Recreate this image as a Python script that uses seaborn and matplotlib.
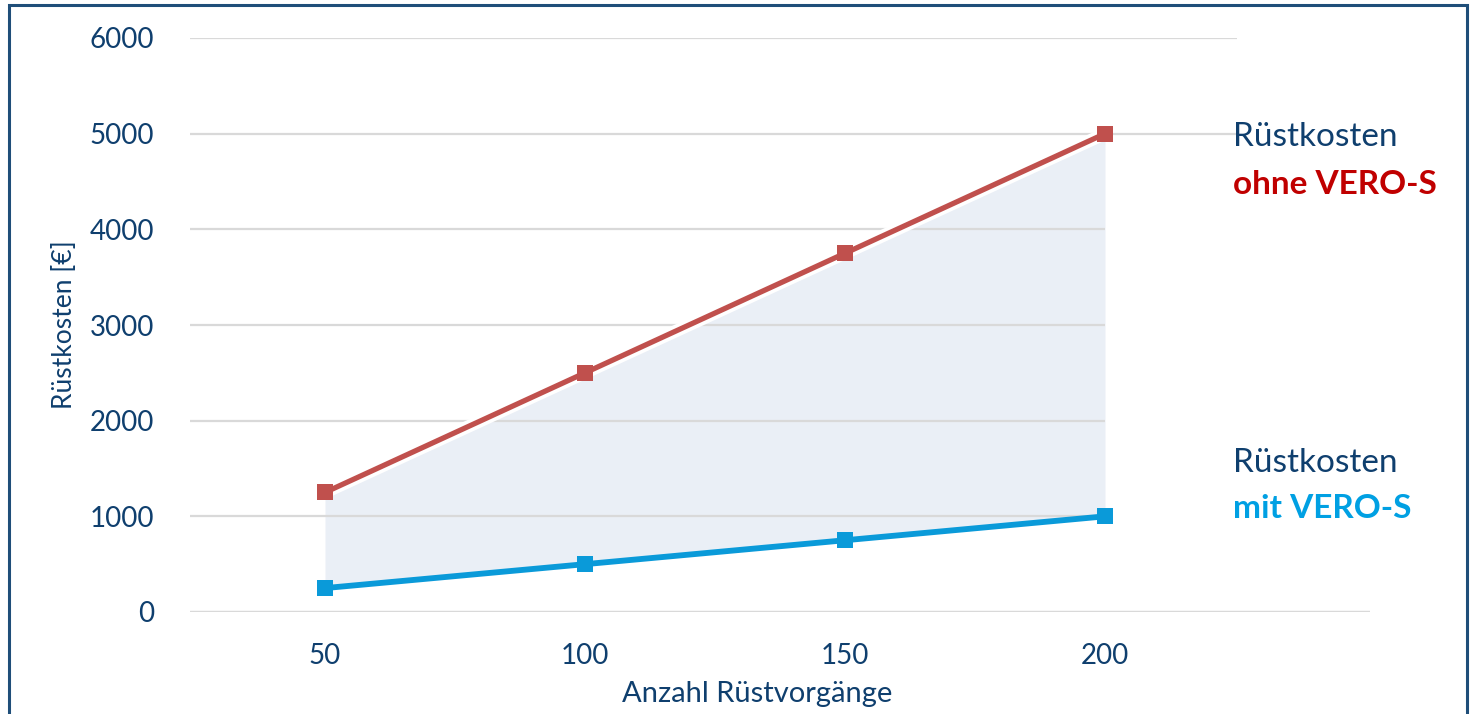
import matplotlib
matplotlib.use("Agg")
import matplotlib.pyplot as plt
from matplotlib.patches import Rectangle
import seaborn as sns
import pandas as pd

# Rüstkosten chart data
anzahl = [50, 100, 150, 200]
kosten_ohne = [1250, 2500, 3750, 5000]
kosten_mit = [250, 500, 750, 1000]
y_ticks = [0, 1000, 2000, 3000, 4000, 5000, 6000]

navy = "#0f3f6e"
red = "#c0504d"
blue = "#0a9ad9"

sns.set_style("white")
plt.rcParams['font.family'] = ['Lato', 'DejaVu Sans']

df = pd.DataFrame({"x": anzahl * 2,
                   "y": kosten_ohne + kosten_mit,
                   "serie": ["ohne"] * 4 + ["mit"] * 4})

fig = plt.figure(figsize=(14.7, 7.14), dpi=100)
ax = fig.add_axes([190 / 1470, 102 / 714, 1180 / 1470, 574 / 714])

# area between both series
ax.fill_between(anzahl, kosten_mit, kosten_ohne, color="#eaeff6", lw=0, zorder=1)

# grid lines
ax.hlines(y_ticks[1:5], 24.04, 200, color="#d9d9d9", lw=1.6, zorder=1.5)
ax.hlines(y_ticks[5:], 24.04, 225.4, color="#d9d9d9", lw=1.6, zorder=1.5)
ax.axhline(0, color="#d9d9d9", lw=2.5, zorder=1.5)

# white halo under the red line
ax.plot(anzahl, kosten_ohne, color="white", lw=9, zorder=2, solid_capstyle="butt")

sns.lineplot(data=df[df.serie == "ohne"], x="x", y="y", ax=ax, color=red, lw=3.8,
             marker="s", markersize=11, markeredgewidth=0, zorder=3)
sns.lineplot(data=df[df.serie == "mit"], x="x", y="y", ax=ax, color=blue, lw=4.2,
             marker="s", markersize=11, markeredgewidth=0, zorder=3)

ax.set_xlim(24.04, 250.96)
ax.set_ylim(0, 6000)
ax.set_xticks(anzahl)
ax.set_yticks(y_ticks)
ax.tick_params(axis="both", length=0, labelsize=20, labelcolor=navy)
ax.tick_params(axis="y", pad=26)
ax.tick_params(axis="x", pad=22)
for s in ax.spines.values():
    s.set_visible(False)

ax.set_xlabel("Anzahl Rüstvorgänge", fontsize=21, color=navy)
ax.set_ylabel("Rüstkosten [€]", fontsize=19, color=navy)
ax.xaxis.set_label_coords(0.4805, -0.12)
ax.yaxis.set_label_coords(-0.096, 0.5)

# annotations at the right
ax.text(1233 / 1470, 1 - 137 / 714, "Rüstkosten", transform=fig.transFigure,
        fontsize=24, color=navy, va="center", ha="left")
ax.text(1233 / 1470, 1 - 185 / 714, "ohne VERO-S", transform=fig.transFigure,
        fontsize=24, color="#c00000", fontweight="bold", va="center", ha="left")
ax.text(1233 / 1470, 1 - 463 / 714, "Rüstkosten", transform=fig.transFigure,
        fontsize=24, color=navy, va="center", ha="left")
ax.text(1233 / 1470, 1 - 508 / 714, "mit VERO-S", transform=fig.transFigure,
        fontsize=24, color="#00a0e3", fontweight="bold", va="center", ha="left")

# frame around the slide
fig.patches.append(Rectangle((9 / 1470, -0.02), 1458 / 1470, 1.02 - 5 / 714,
                             transform=fig.transFigure, fill=False,
                             edgecolor="#1f4e79", lw=2.2))

fig.savefig("out.png", dpi=100)
